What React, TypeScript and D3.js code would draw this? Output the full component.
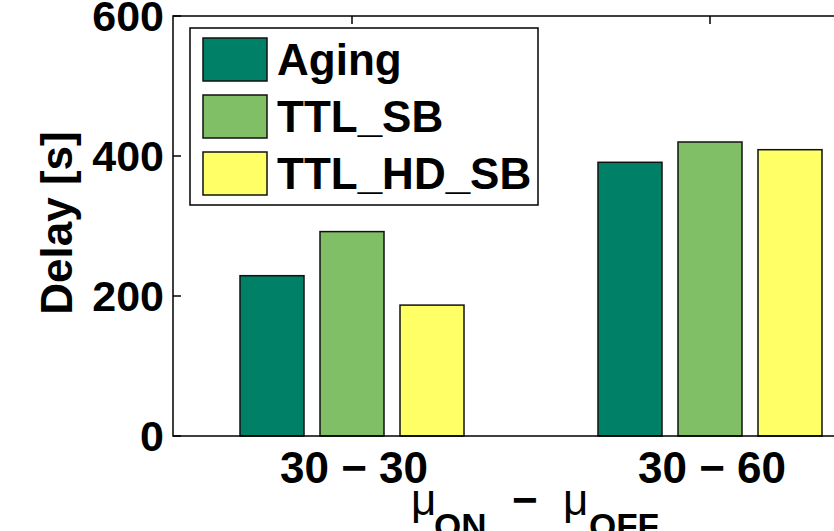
import * as d3 from "d3";

const W = 834;
const H = 531;

// plot box (right edge runs past the window, as in the original figure)
const left = 173;
const top = 16;
const bottom = 436;
const right = 889;

const categories = ["30 − 30", "30 − 60"];
const series = ["Aging", "TTL_SB", "TTL_HD_SB"];
const colors = ["#008066", "#80bf66", "#ffff66"];
const aging = [229, 391];
const ttlSb = [292, 420];
const ttlHdSb = [187, 409];
const yTicks = [0, 200, 400, 600];

const values = [aging, ttlSb, ttlHdSb];
const font = "'Liberation Sans', Arial, Helvetica, sans-serif";

const x = d3.scaleLinear().domain([0.5, 2.5]).range([left, right]);
const y = d3.scaleLinear().domain([0, 600]).range([bottom, top]);
const inner = d3.scaleBand().domain(series).range([-112, 112]).paddingInner(0.2);

function App() {
  const tickLen = 8;
  return (
    <svg
      width={W}
      height={H}
      style={{ position: "absolute", left: 0, top: 0, background: "#fff" }}
      fontFamily={font}
      fontWeight="bold"
    >
      {/* bars */}
      {categories.map((c, i) =>
        series.map((s, j) => (
          <rect
            key={c + s}
            x={x(i + 1) + inner(s)!}
            y={y(values[j][i])}
            width={inner.bandwidth()}
            height={bottom - y(values[j][i])}
            fill={colors[j]}
            stroke="#111"
            strokeWidth={1.5}
          />
        ))
      )}

      {/* axes box */}
      <path
        d={`M${right},${top}H${left}V${bottom}H${right}`}
        fill="none"
        stroke="#000"
        strokeWidth={1.5}
      />
      {yTicks.map((t) => (
        <g key={t}>
          <line x1={left} x2={left + tickLen} y1={y(t)} y2={y(t)} stroke="#000" strokeWidth={1.5} />
          <text x={left - 9} y={y(t)} dy="0.36em" textAnchor="end" fontSize={43}>
            {t}
          </text>
        </g>
      ))}
      {categories.map((c, i) => (
        <g key={c}>
          <line x1={x(i + 1)} x2={x(i + 1)} y1={top} y2={top + tickLen} stroke="#000" strokeWidth={1.5} />
          <text x={x(i + 1) + 2} y={483} textAnchor="middle" fontSize={44}>
            {c}
          </text>
        </g>
      ))}

      {/* axis labels */}
      <text
        transform={`translate(72,${(top + bottom) / 2 - 3}) rotate(-90)`}
        textAnchor="middle"
        fontSize={44}
      >
        Delay [s]
      </text>
      <g>
        <text x={411} y={515} fontSize={44} fontWeight="normal">μ</text>
        <text x={434} y={538} fontSize={35}>ON</text>
        <text x={512} y={515} fontSize={44}>−</text>
        <text x={563} y={515} fontSize={44} fontWeight="normal">μ</text>
        <text x={589} y={538} fontSize={35}>OFF</text>
      </g>

      {/* legend */}
      <rect x={190} y={28} width={348} height={177} fill="#fff" stroke="#000" strokeWidth={1.5} />
      {series.map((s, j) => (
        <g key={s} transform={`translate(203,${38 + j * 57})`}>
          <rect width={64} height={43} fill={colors[j]} stroke="#111" strokeWidth={1.5} />
          <text x={74} y={21.5} dy="0.36em" fontSize={44}>
            {s}
          </text>
        </g>
      ))}
    </svg>
  );
}

export default App;
